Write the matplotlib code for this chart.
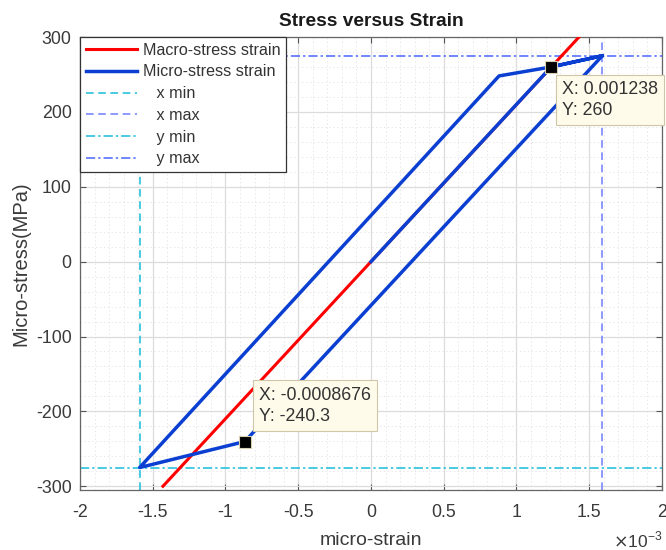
import matplotlib.pyplot as plt
from matplotlib.ticker import MultipleLocator, FuncFormatter

# === DADOS (strain em unidades reais, stress em MPa) ===
macro_strain = [-1.43e-3, 1.43e-3]
macro_stress = [-300, 300]

micro_strain = [0.0, 1.238e-3, 1.59e-3, -0.8676e-3, -1.59e-3, 0.88e-3, 1.238e-3, 1.59e-3]
micro_stress = [0, 260, 275, -240.3, -275, 248, 260, 275]

x_min, x_max = -1.59e-3, 1.59e-3
y_min, y_max = -275, 275

tip_strain = [1.238e-3, -0.8676e-3]
tip_stress = [260, -240.3]

legend_labels = ['Macro-stress strain', 'Micro-stress strain',
                 '   x min', '   x max', '   y min', '   y max']

SCALE = 1e3  # eixo x mostrado em 10^-3

plt.rcParams['font.family'] = ['Liberation Sans', 'DejaVu Sans']

fig = plt.figure(figsize=(6.66, 5.5), dpi=100)
ax = fig.add_axes([80 / 666, 60 / 550, 582 / 666, 453 / 550])

ax.plot([s * SCALE for s in macro_strain], macro_stress, color='#ff0000', lw=2.2,
        label=legend_labels[0], zorder=3)
ax.plot([s * SCALE for s in micro_strain], micro_stress, color='#0a3fd2', lw=2.5,
        label=legend_labels[1], zorder=4)

ax.axvline(x_min * SCALE, color='#18bcd8', ls=(0, (5, 3)), lw=1.1, label=legend_labels[2], zorder=2)
ax.axvline(x_max * SCALE, color='#6f7dff', ls=(0, (5, 3)), lw=1.1, label=legend_labels[3], zorder=2)
ax.axhline(y_min, color='#18bcd8', ls=(0, (6, 2, 1.5, 2)), lw=1.1, label=legend_labels[4], zorder=2)
ax.axhline(y_max, color='#4a66ff', ls=(0, (6, 2, 1.5, 2)), lw=1.1, label=legend_labels[5], zorder=2)

ax.set_xlim(-2, 2)
ax.set_ylim(-305, 300)
ax.xaxis.set_major_locator(MultipleLocator(0.5))
ax.xaxis.set_minor_locator(MultipleLocator(0.1))
ax.yaxis.set_major_locator(MultipleLocator(100))
ax.yaxis.set_minor_locator(MultipleLocator(20))
ax.xaxis.set_major_formatter(FuncFormatter(lambda v, p: '%g' % v))
ax.yaxis.set_major_formatter(FuncFormatter(lambda v, p: '%g' % v))

ax.grid(True, which='major', color='#dcdcdc', lw=0.9, ls='-')
ax.grid(True, which='minor', color='#e8e8e8', lw=0.7, ls=(0, (1.5, 2.5)))
ax.set_axisbelow(True)
ax.tick_params(which='major', direction='in', length=4, top=True, right=True,
               labelsize=12.8, labelcolor='#3a3a3a', color='#555555', pad=6)
ax.tick_params(axis='x', which='major', pad=10)
ax.tick_params(which='minor', length=0)
for sp in ax.spines.values():
    sp.set_color('#666666')
    sp.set_linewidth(0.9)

ax.set_title('Stress versus Strain', fontsize=13.8, fontweight='bold', color='#1a1a1a', pad=8)
ax.set_xlabel('micro-strain', fontsize=14, color='#3a3a3a', labelpad=8)
ax.set_ylabel('Micro-stress(MPa)', fontsize=14.5, color='#3a3a3a', labelpad=4)
fig.text(0.995, 0.0, r'$\times$10$^{\mathregular{-3}}$', ha='right', va='bottom',
         fontsize=12.5, color='#3a3a3a')

# data tips
ax.plot([s * SCALE for s in tip_strain], tip_stress, ls='none', marker='s', ms=9,
        mfc='black', mec='#d8d0b0', mew=0.8, zorder=6)
box = dict(boxstyle='square,pad=0.35', fc='#fffbea', ec='#cfc6a8', lw=0.8)
ax.annotate('X: %.6f\nY: %g' % (tip_strain[0], tip_stress[0]),
            xy=(tip_strain[0] * SCALE, tip_stress[0]), xytext=(11, -14),
            textcoords='offset pixels', ha='left', va='top', fontsize=12.8,
            color='#333333', bbox=box, linespacing=1.3, annotation_clip=False,
            zorder=7).set_clip_on(False)
ax.annotate('X: %.7f\nY: %g' % (tip_strain[1], tip_stress[1]),
            xy=(tip_strain[1] * SCALE, tip_stress[1]), xytext=(14, 17),
            textcoords='offset pixels', ha='left', va='bottom', fontsize=12.8,
            color='#333333', bbox=box, linespacing=1.3, zorder=7)

leg = ax.legend(loc='upper left', borderaxespad=0, fontsize=11.6, fancybox=False,
                handlelength=3.2, labelspacing=0.42, borderpad=0.35, handletextpad=0.35,
                framealpha=1)
leg.get_frame().set_edgecolor('#333333')
leg.get_frame().set_linewidth(0.9)
for t in leg.get_texts():
    t.set_color('#333333')

fig.savefig('out.png', dpi=100)
